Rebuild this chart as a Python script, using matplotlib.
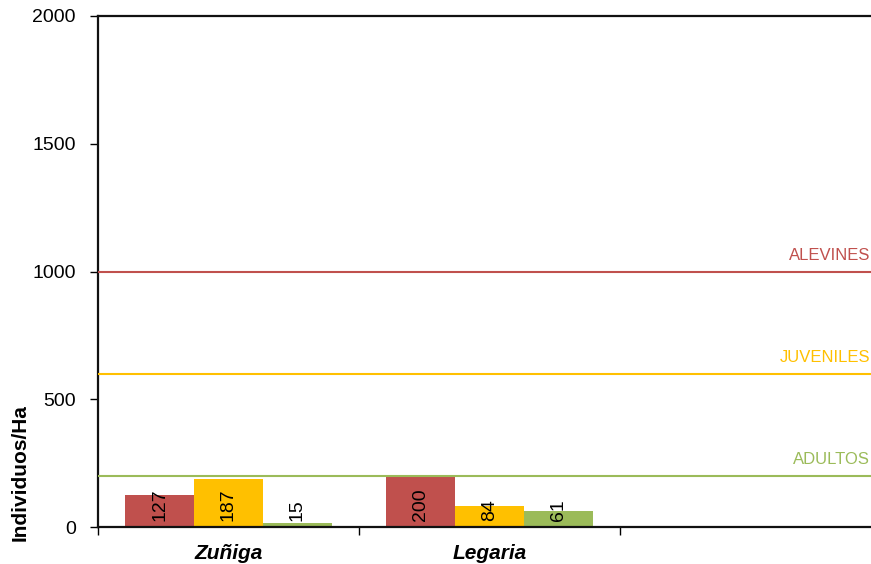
import matplotlib
matplotlib.use("Agg")
import matplotlib.pyplot as plt
import numpy as np
from matplotlib.transforms import offset_copy

plt.rcParams["font.family"] = ["Liberation Sans", "DejaVu Sans"]

# data
sites = ["Zuñiga", "Legaria", ""]
series = ["Alevines", "Juveniles", "Adultos"]
alevines = [127, 200, None]
juveniles = [187, 84, None]
adultos = [15, 61, None]
thresholds = [1000, 600, 200]
threshold_labels = ["ALEVINES", "JUVENILES", "ADULTOS"]
y_ticks = [0, 500, 1000, 1500, 2000]

colors = ["#C0504D", "#FFC000", "#9BBB59"]

W, H = 871, 564
fig = plt.figure(figsize=(W / 100, H / 100), dpi=100)
# axis runs a little past the right edge, like the cropped original
ax = fig.add_axes([98 / W, (H - 527) / H, (881 - 98) / W, (527 - 16) / H])

x = np.arange(len(sites))
width = 0.264
offsets = [-width, 0.0, width]

label_tf = offset_copy(ax.transData, fig=fig, x=0, y=6, units="dots")
for vals, off, col in zip([alevines, juveniles, adultos], offsets, colors):
    for xi, v in zip(x, vals):
        if v is None:
            continue
        ax.bar(xi + off, v, width=width, color=col, edgecolor="none", zorder=2)
        ax.text(xi + off, 0, str(v), rotation=90, ha="center", va="bottom",
                fontsize=14, color="black", transform=label_tf, zorder=4)

# reference lines per life stage
for t, lab, col in zip(thresholds, threshold_labels, colors):
    ax.axhline(t, color=col, lw=1.5, zorder=3)
    tf = offset_copy(ax.get_yaxis_transform(), fig=fig, x=0, y=9, units="dots")
    ax.text((870 - 98) / (881 - 98), t, lab, transform=tf, ha="right",
            va="bottom", fontsize=12, color=col)

ax.set_xlim(-0.5, len(sites) - 0.5)
ax.set_ylim(0, 2000)
ax.set_yticks(y_ticks)
ax.set_yticklabels([str(v) for v in y_ticks], fontsize=14)
ax.tick_params(axis="y", direction="out", length=6, width=1, pad=10)

# category boundaries carry the tick marks, names sit in the middle
ax.set_xticks(np.arange(len(sites) + 1) - 0.5)
ax.set_xticklabels([])
ax.tick_params(axis="x", which="major", direction="out", length=6, width=1)
ax.set_xticks(x, minor=True)
ax.set_xticklabels(sites, minor=True, fontsize=15, fontweight="bold",
                   fontstyle="italic")
ax.tick_params(axis="x", which="minor", length=0, pad=12)

for side in ("left", "bottom", "top", "right"):
    ax.spines[side].set_linewidth(1.6)
    ax.spines[side].set_color("#111111")

fig.text(20 / W, (H - 473) / H, "Individuos/Ha", rotation=90, ha="center",
         va="center", fontsize=15, fontweight="bold")

fig.savefig("out.png", dpi=100)
